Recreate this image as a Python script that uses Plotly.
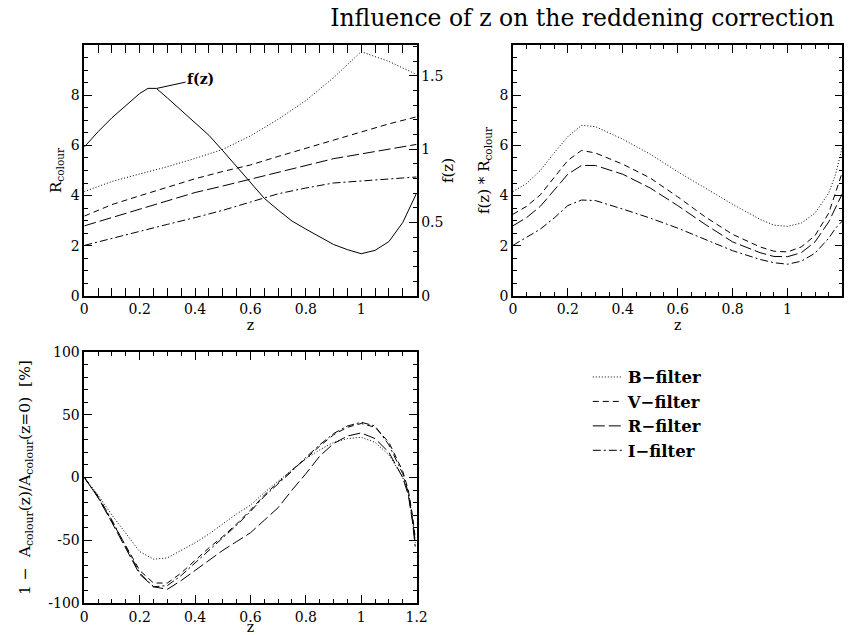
import plotly.graph_objects as go

# ---------------- data ----------------
z_r = [0, 0.1, 0.2, 0.3, 0.4, 0.5, 0.6, 0.7, 0.8, 0.9, 1.0, 1.1, 1.2]
R_B = [4.16, 4.56, 4.86, 5.15, 5.48, 5.84, 6.38, 7.04, 7.79, 8.70, 9.74, 9.35, 8.83]
R_V = [3.18, 3.64, 3.99, 4.33, 4.67, 4.96, 5.22, 5.56, 5.89, 6.22, 6.55, 6.86, 7.14]
R_R = [2.79, 3.13, 3.47, 3.79, 4.12, 4.38, 4.65, 4.92, 5.20, 5.47, 5.66, 5.86, 6.04]
R_I = [2.01, 2.30, 2.58, 2.85, 3.12, 3.41, 3.74, 4.07, 4.30, 4.50, 4.58, 4.66, 4.74]

z_f = [0, 0.05, 0.1, 0.15, 0.2, 0.23, 0.26, 0.3, 0.35, 0.4, 0.45, 0.5, 0.55, 0.6,
       0.65, 0.7, 0.75, 0.8, 0.85, 0.9, 0.95, 1.0, 1.05, 1.1, 1.15, 1.2]
f_z = [1.015, 1.12, 1.215, 1.297, 1.38, 1.415, 1.415, 1.35, 1.267, 1.18, 1.095, 0.99,
       0.88, 0.77, 0.665, 0.585, 0.51, 0.455, 0.405, 0.35, 0.315, 0.287, 0.31, 0.37,
       0.50, 0.70]

z_p = [0, 0.05, 0.1, 0.15, 0.2, 0.25, 0.3, 0.4, 0.5, 0.6, 0.7, 0.8, 0.9, 0.95, 1.0,
       1.05, 1.1, 1.15, 1.175, 1.2]
fR_B = [4.16, 4.48, 5.0, 5.70, 6.35, 6.80, 6.75, 6.25, 5.65, 4.95, 4.30, 3.65, 3.05,
        2.82, 2.77, 2.90, 3.30, 4.10, 4.85, 5.97]
fR_V = [3.25, 3.57, 4.03, 4.70, 5.40, 5.80, 5.70, 5.25, 4.70, 3.95, 3.15, 2.45, 1.95,
        1.78, 1.75, 1.95, 2.40, 3.30, 4.10, 4.95]
fR_R = [2.79, 3.12, 3.57, 4.20, 4.85, 5.20, 5.20, 4.85, 4.30, 3.60, 2.85, 2.15, 1.72,
        1.57, 1.56, 1.72, 2.15, 2.95, 3.55, 4.09]
fR_I = [2.01, 2.34, 2.66, 3.10, 3.60, 3.82, 3.80, 3.46, 3.10, 2.70, 2.25, 1.80, 1.45,
        1.32, 1.26, 1.38, 1.70, 2.30, 2.70, 2.99]

z_d = [0, 0.05, 0.1, 0.15, 0.2, 0.25, 0.3, 0.35, 0.4, 0.45, 0.5, 0.55, 0.6, 0.65, 0.7,
       0.75, 0.8, 0.85, 0.9, 0.95, 1.0, 1.05, 1.1, 1.15, 1.17, 1.185, 1.195]
d_B = [0, -14, -30, -45, -59, -65, -64, -58, -52, -45, -37, -29, -22, -12, -3, 6, 15,
       22, 28, 31, 32, 28, 18, 0, -12, -33, -50]
d_V = [0, -16, -35, -55, -74, -84, -84, -76, -66, -56, -47, -37, -26, -14, -4, 6, 15,
       25, 34, 40, 43, 40, 28, 5, -10, -30, -48]
d_R = [0, -16, -36, -57, -77, -87, -89, -82, -74, -66, -58, -51, -44, -34, -24, -10, 3,
       17, 27, 33, 35.5, 31, 20, 0, -14, -35, -55]
d_I = [0, -15, -34, -55, -76, -87, -86, -78, -68, -58, -48, -38, -27, -15, -5, 5, 16,
       26, 35, 41, 44, 41, 26, 3, -12, -33, -52]

filters = ["B\u2212filter", "V\u2212filter", "R\u2212filter", "I\u2212filter"]
dashes = ["1px,2px", "6px,4px", "12px,4px", "8px,3px,2px,3px"]

x_top_vals = [0, 0.2, 0.4, 0.6, 0.8, 1.0]
x_top_text = ["0", "0.2", "0.4", "0.6", "0.8", "1"]
x_bot_vals = [0, 0.2, 0.4, 0.6, 0.8, 1.0, 1.2]
x_bot_text = ["0", "0.2", "0.4", "0.6", "0.8", "1", "1.2"]

FONT = "DejaVu Serif"

fig = go.Figure()

R_sets = [R_B, R_V, R_R, R_I]
fR_sets = [fR_B, fR_V, fR_R, fR_I]
d_sets = [d_B, d_V, d_R, d_I]

for i in range(4):
    line = dict(color="black", width=1, dash=dashes[i])
    fig.add_trace(go.Scatter(x=z_r, y=R_sets[i], mode="lines", line=line,
                             name="<b>" + filters[i] + "</b>", legendgroup=filters[i],
                             xaxis="x", yaxis="y", showlegend=True))
    fig.add_trace(go.Scatter(x=z_p, y=fR_sets[i], mode="lines", line=line,
                             name=filters[i], legendgroup=filters[i],
                             xaxis="x2", yaxis="y3", showlegend=False))
    fig.add_trace(go.Scatter(x=z_d, y=d_sets[i], mode="lines", line=line,
                             name=filters[i], legendgroup=filters[i],
                             xaxis="x3", yaxis="y4", showlegend=False))

fig.add_trace(go.Scatter(x=z_f, y=f_z, mode="lines",
                         line=dict(color="black", width=1), name="f(z)",
                         xaxis="x", yaxis="y2", showlegend=False))

tickfont = dict(family=FONT, size=14, color="black")
titlefont = dict(family=FONT, size=15, color="black")


def xax(domain, anchor, vals, text, standoff=0):
    return dict(domain=domain, anchor=anchor, range=[0, 1.2], showgrid=False,
                zeroline=False, showline=True, linecolor="black", linewidth=1.5,
                mirror="allticks", ticks="inside", ticklen=8, tickwidth=1,
                tickcolor="black", tickmode="array", tickvals=vals, ticktext=text,
                tickfont=tickfont,
                minor=dict(tickmode="linear", tick0=0, dtick=0.05, ticks="inside",
                           ticklen=4, tickcolor="black", showgrid=False),
                title=dict(text="z", font=dict(family=FONT, size=14, color="black"),
                           standoff=standoff))


def yax(domain, anchor, rng, vals, dminor, title, mirror="allticks", standoff=6,
        tsize=15):
    return dict(domain=domain, anchor=anchor, range=rng, showgrid=False,
                zeroline=False, showline=True, linecolor="black", linewidth=1.5,
                mirror=mirror, ticks="inside", ticklen=8, tickwidth=1,
                tickcolor="black", tickmode="array", tickvals=vals,
                ticktext=[str(v) for v in vals], tickfont=tickfont,
                minor=dict(tickmode="linear", tick0=rng[0], dtick=dminor,
                           ticks="inside", ticklen=4, tickcolor="black",
                           showgrid=False),
                title=dict(text=title, font=dict(family=FONT, size=tsize,
                                                 color="black"),
                           standoff=standoff))


top_dom = [0.5328, 0.9397]
bot_dom = [0.0339, 0.4417]
left_dom = [0.0956, 0.4912]
right_dom = [0.6058, 0.9982]

layout = dict(
    width=855, height=635,
    margin=dict(l=0, r=0, t=0, b=0),
    paper_bgcolor="white", plot_bgcolor="white",
    font=dict(family=FONT, color="black"),
    title=dict(text="Influence of z on the reddening correction",
               font=dict(family=FONT, size=23.5, color="black"),
               x=0.681, xanchor="center", y=0.972, yanchor="middle"),
    xaxis=xax(left_dom, "y", x_top_vals, x_top_text),
    yaxis=yax(top_dom, "x", [0, 10], [0, 2, 4, 6, 8], 0.5,
              "R<sub>colour</sub>", mirror=False),
    yaxis2=dict(overlaying="y", side="right", anchor="x", range=[0, 1.71],
                showgrid=False, zeroline=False, showline=True, linecolor="black",
                linewidth=1.5, ticks="inside", ticklen=8, tickwidth=1,
                tickcolor="black", tickmode="array", tickvals=[0, 0.5, 1, 1.5],
                ticktext=["0", "0.5", "1", "1.5"], tickfont=tickfont,
                minor=dict(tickmode="linear", tick0=0, dtick=0.1, ticks="inside",
                           ticklen=4, tickcolor="black", showgrid=False),
                title=dict(text="f(z)", font=titlefont, standoff=0)),
    xaxis2=xax(right_dom, "y3", x_top_vals, x_top_text),
    yaxis3=yax(top_dom, "x2", [0, 10], [0, 2, 4, 6, 8], 0.5,
               "f(z) * R<sub>colour</sub>"),
    xaxis3=xax(left_dom, "y4", x_bot_vals, x_bot_text, standoff=1),
    yaxis4=yax(bot_dom, "x3", [-100, 100], [-100, -50, 0, 50, 100], 10,
               "1 \u2212  A<sub>colour</sub>(z)/A<sub>colour</sub>(z=0)  [%]",
               standoff=14, tsize=15.5),
    legend=dict(x=0.695, y=0.429, xanchor="left", yanchor="top",
                font=dict(family=FONT, size=16.5, color="black"),
                bgcolor="rgba(0,0,0,0)", tracegroupgap=0),
    showlegend=True,
)
fig.update_layout(**layout)

fig.add_annotation(x=0.262, y=1.415, xref="x", yref="y2", ax=0.42, ay=1.48,
                   axref="x", ayref="y2", text="<b>f(z)</b>", showarrow=True,
                   arrowhead=0, arrowwidth=1, arrowcolor="black",
                   font=dict(family=FONT, size=14, color="black"))

fig.write_html("out.html")
